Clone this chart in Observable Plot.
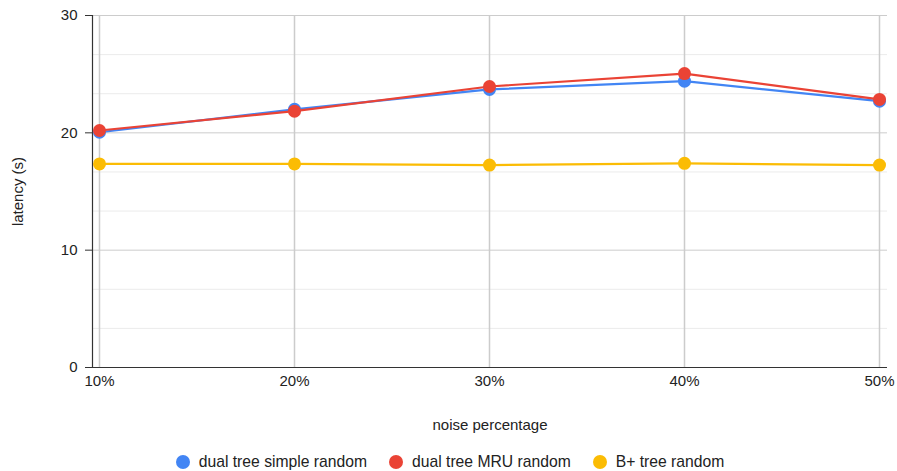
<!DOCTYPE html>
<html>
<head>
<meta charset="utf-8">
<script src="https://cdn.jsdelivr.net/npm/d3@7"></script>
<script src="https://cdn.jsdelivr.net/npm/@observablehq/plot@0.6"></script>
<style>
  body { margin: 0; background: #fff; font-family: "Liberation Sans", Arial, sans-serif; }
  #chart svg { display: block; }
  .legend { display: flex; justify-content: center; align-items: center; height: 44px; font-size: 15.7px; color: #222; padding-left: 3px; }
  .legend .item { display: flex; align-items: center; margin: 0 11px; }
  .legend .dot { width: 14px; height: 14px; border-radius: 50%; margin-right: 9px; }
</style>
</head>
<body>
<div id="chart"></div>
<div class="legend" id="legend"></div>
<script>
const categories = ["10%", "20%", "30%", "40%", "50%"];
const seriesNames = ["dual tree simple random", "dual tree MRU random", "B+ tree random"];
const colors = ["#4285F4", "#EA4335", "#FBBC04"];
const simpleRandom = [20.05, 22.0, 23.7, 24.4, 22.7];
const mruRandom = [20.2, 21.85, 23.95, 25.05, 22.85];
const bplusRandom = [17.35, 17.35, 17.25, 17.4, 17.25];
const yTicks = [0, 10, 20, 30];
const xTitle = "noise percentage";
const yTitle = "latency (s)";

const allSeries = [simpleRandom, mruRandom, bplusRandom];
const data = allSeries.flatMap((vals, si) =>
  vals.map((v, i) => ({ cat: categories[i], value: v, series: seriesNames[si] }))
);
const minorGrid = d3.range(0, 31, 10 / 3).filter(v => !yTicks.some(t => Math.abs(t - v) < 1e-6));

const plot = Plot.plot({
  width: 897,
  height: 440,
  marginLeft: 92,
  marginRight: 10,
  marginTop: 15,
  marginBottom: 73,
  style: { fontFamily: "'Liberation Sans', Arial, sans-serif", fontSize: "15px", color: "#222", background: "#fff" },
  x: { type: "point", domain: categories, insetLeft: 7, insetRight: 8, padding: 0 },
  y: { domain: [0, 30] },
  color: { domain: seriesNames, range: colors },
  marks: [
    Plot.ruleY(minorGrid, { stroke: "#ebebeb", strokeWidth: 1 }),
    Plot.ruleY(yTicks.slice(1), { stroke: "#cccccc", strokeWidth: 1 }),
    Plot.ruleX(categories, { stroke: "#cccccc", strokeWidth: 1.5 }),
    Plot.axisY({ ticks: yTicks, tickSize: 7, tickPadding: 8, stroke: "#333", fill: "#222", fontSize: 15, label: null }),
    Plot.axisX({ tickSize: 0, tickPadding: 8, fill: "#222", fontSize: 15, label: null }),
    Plot.ruleX([categories[0]], { stroke: "#333", strokeWidth: 1.2, dx: -7 }),
    Plot.ruleY([0], { stroke: "#333", strokeWidth: 1.2, insetLeft: -7 }),
    Plot.line(data, { x: "cat", y: "value", z: "series", stroke: "series", strokeWidth: 2.2 }),
    Plot.dot(data, { x: "cat", y: "value", fill: "series", r: 6.5 }),
    Plot.text([xTitle], { frameAnchor: "bottom", dy: 58, fontSize: 15, fill: "#222", lineAnchor: "middle" }),
    Plot.text([yTitle], { frameAnchor: "left", dx: -74, rotate: -90, fontSize: 15, fill: "#222", textAnchor: "middle", lineAnchor: "middle" })
  ]
});
document.getElementById("chart").appendChild(plot);

const legend = document.getElementById("legend");
seriesNames.forEach((name, i) => {
  const item = document.createElement("div");
  item.className = "item";
  const dot = document.createElement("span");
  dot.className = "dot";
  dot.style.background = colors[i];
  const label = document.createElement("span");
  label.textContent = name;
  item.appendChild(dot);
  item.appendChild(label);
  legend.appendChild(item);
});
</script>
</body>
</html>
